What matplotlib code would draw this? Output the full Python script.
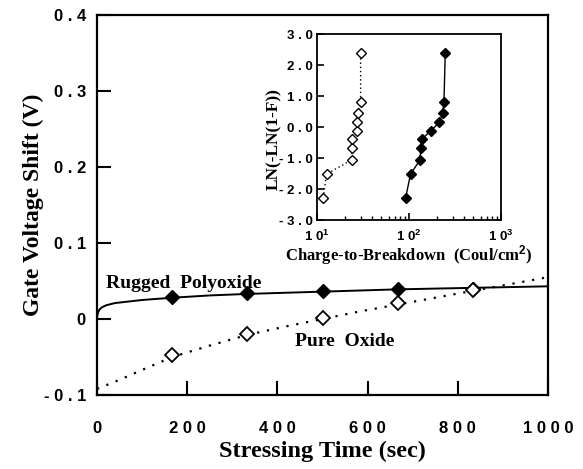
import matplotlib
matplotlib.use("Agg")
import matplotlib.pyplot as plt
from matplotlib.ticker import FixedLocator, FixedFormatter, LogLocator, NullFormatter

plt.rcParams['mathtext.fontset'] = 'custom'
plt.rcParams['mathtext.rm'] = 'Liberation Sans:bold'
plt.rcParams['mathtext.bf'] = 'Liberation Sans:bold'
plt.rcParams['mathtext.it'] = 'Liberation Sans:bold'

# ---- main data ----
time_pts = [167, 333, 500, 667, 833]
rugged_pts = [0.029, 0.034, 0.037, 0.039, 0.040]
pure_pts = [-0.047, -0.020, 0.001, 0.021, 0.038]

rugged_fit_x = [0, 2, 5, 10, 20, 40, 70, 100, 167, 250, 333, 500, 667, 833, 1000]
rugged_fit_y = [0.002, 0.008, 0.012, 0.015, 0.018, 0.021, 0.023, 0.025, 0.028, 0.031, 0.033, 0.036, 0.039, 0.041, 0.043]
pure_fit_x = [0, 50, 100, 167, 250, 333, 417, 500, 583, 667, 750, 833, 917, 1000]
pure_fit_y = [-0.092, -0.080, -0.067, -0.050, -0.035, -0.021, -0.010, 0.000, 0.010, 0.019, 0.028, 0.037, 0.046, 0.055]

# ---- inset data (Weibull) ----
weibull_y = [-2.28, -1.52, -1.06, -0.69, -0.40, -0.12, 0.15, 0.44, 0.82, 2.38]
qbd_pure = [11.7, 12.7, 23.8, 24.2, 24.2, 26.9, 27.4, 27.7, 29.8, 29.8]
qbd_rugged = [92, 104, 132, 134, 137, 173, 214, 232, 240, 248]

xticks_main = [0, 200, 400, 600, 800, 1000]
xtick_labels_main = ["0", "2 0 0", "4 0 0", "6 0 0", "8 0 0", "1 0 0 0"]
yticks_main = [-0.1, 0, 0.1, 0.2, 0.3, 0.4]
ytick_labels_main = ["- 0 . 1", "0", "0 . 1", "0 . 2", "0 . 3", "0 . 4"]
yticks_inset = [-3, -2, -1, 0, 1, 2, 3]
ytick_labels_inset = ["- 3 . 0", "- 2 . 0", "- 1 . 0", "0 . 0", "1 . 0", "2 . 0", "3 . 0"]
xticks_inset = [10, 100, 1000]
xtick_labels_inset = [r"1 0$^{1}$", r"1 0$^{2}$", r"1 0$^{3}$"]

serif = 'Liberation Serif'
sans = 'Liberation Sans'

fig = plt.figure(figsize=(5.83, 4.69), dpi=100)
ax = fig.add_axes([0.1664, 0.1578, 0.7736, 0.8102])

ax.plot(rugged_fit_x, rugged_fit_y, '-', color='black', lw=1.4)
ax.plot(pure_fit_x, pure_fit_y, linestyle=(0, (1, 3.5)), color='black', lw=1.6)
ax.plot(time_pts, rugged_pts, 'D', color='black', ms=7.5, mec='black')
ax.plot(time_pts, pure_pts, 'D', mfc='white', mec='black', ms=7.5, mew=1.3)

ax.set_xlim(0, 1000)
ax.set_ylim(-0.1, 0.4)
ax.xaxis.set_major_locator(FixedLocator(xticks_main))
ax.xaxis.set_major_formatter(FixedFormatter(xtick_labels_main))
ax.yaxis.set_major_locator(FixedLocator(yticks_main))
ax.yaxis.set_major_formatter(FixedFormatter(ytick_labels_main))
ax.tick_params(direction='in', length=10, width=1.5)
ax.tick_params(axis='x', pad=19)
ax.tick_params(axis='y', pad=8)
for lab in ax.get_xticklabels() + ax.get_yticklabels():
    lab.set_fontfamily(sans)
    lab.set_fontweight('bold')
    lab.set_fontsize(12)
for s in ax.spines.values():
    s.set_linewidth(1.6)

ax.set_xlabel("Stressing Time (sec)", fontfamily=serif, fontweight='bold', fontsize=17.5, labelpad=3)
ax.set_ylabel("Gate Voltage Shift (V)", fontfamily=serif, fontweight='bold', fontsize=17, labelpad=0)

ax.text(20, 0.047, "Rugged  Polyoxide", fontfamily=serif, fontweight='bold', fontsize=14, va='center', ha='left')
ax.text(550, -0.029, "Pure  Oxide", fontfamily=serif, fontweight='bold', fontsize=14, va='center', ha='center')

# ---- inset ----
ins = fig.add_axes([0.5437, 0.5309, 0.3156, 0.3966])
ins.plot(qbd_pure, weibull_y, linestyle=(0, (1, 2)), color='black', lw=1.0,
         marker='D', mfc='white', mec='black', ms=5, mew=1.0)
ins.plot(qbd_rugged, weibull_y, '-', color='black', lw=1.0,
         marker='D', mfc='black', mec='black', ms=5.5)
ins.set_xscale('log')
ins.set_xlim(10, 1000)
ins.set_ylim(-3, 3)
ins.xaxis.set_major_locator(FixedLocator(xticks_inset))
ins.xaxis.set_major_formatter(FixedFormatter(xtick_labels_inset))
ins.xaxis.set_minor_locator(LogLocator(base=10, subs=range(2, 10)))
ins.xaxis.set_minor_formatter(NullFormatter())
ins.yaxis.set_major_locator(FixedLocator(yticks_inset))
ins.yaxis.set_major_formatter(FixedFormatter(ytick_labels_inset))
ins.tick_params(which='major', direction='in', length=5, width=1.2, pad=3)
ins.tick_params(which='minor', direction='in', length=3, width=1.0)
ins.tick_params(axis='x', which='major', pad=6)
for lab in ins.get_yticklabels():
    lab.set_fontfamily(sans)
    lab.set_fontweight('bold')
    lab.set_fontsize(9.5)
for lab in ins.get_xticklabels():
    lab.set_fontfamily(sans)
    lab.set_fontweight('bold')
    lab.set_fontsize(9.5)
for s in ins.spines.values():
    s.set_linewidth(1.3)
ins.set_xlabel(r"Charge-to-Breakdown  (Coul/cm$^{2}$)", fontfamily=serif, fontweight='bold', fontsize=12, labelpad=0)
ins.set_ylabel("LN(-LN(1-F))", fontfamily=serif, fontweight='bold', fontsize=12.5)
ins.yaxis.set_label_coords(-0.19, 0.435)

fig.savefig("out.png", dpi=100)
